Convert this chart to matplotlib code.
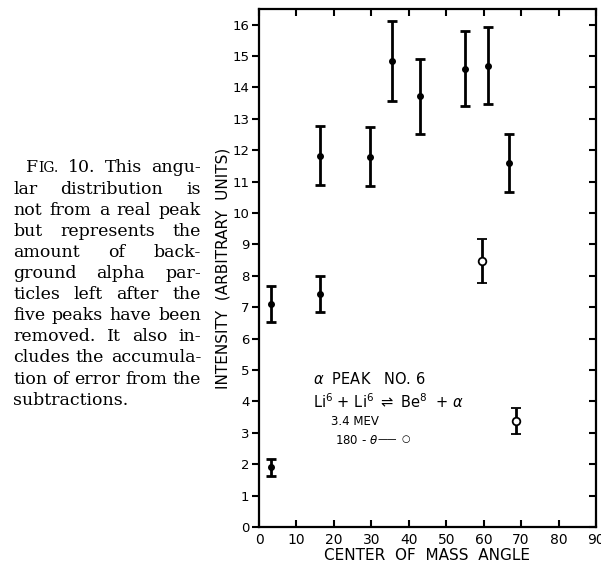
import matplotlib
matplotlib.use("Agg")
import matplotlib.pyplot as plt

# solid points: center-of-mass angle, intensity, error
ang_solid = [3.3, 3.3, 16.4, 16.4, 29.7, 35.5, 43.1, 55.1, 61.2, 66.8]
int_solid = [7.1, 1.9, 11.82, 7.42, 11.8, 14.85, 13.72, 14.6, 14.7, 11.6]
err_solid = [0.58, 0.28, 0.94, 0.58, 0.94, 1.27, 1.2, 1.2, 1.22, 0.93]
# open points (180 - theta)
ang_open = [59.6, 68.6]
int_open = [8.47, 3.38]
err_open = [0.7, 0.42]

xticks = list(range(0, 100, 10))
yticks = list(range(0, 17))

caption = [
    "FIG. 10. This angu-",
    "lar distribution is",
    "not from a real peak",
    "but represents the",
    "amount of back-",
    "ground alpha par-",
    "ticles left after the",
    "five peaks have been",
    "removed. It also in-",
    "cludes the accumula-",
    "tion of error from the",
    "subtractions.",
]

W, H = 601, 565
fig = plt.figure(figsize=(W / 100, H / 100), dpi=100)
ax = fig.add_axes([259 / W, 1 - 527 / H, (596 - 259) / W, (527 - 9) / H])

ax.errorbar(ang_solid, int_solid, yerr=err_solid, fmt="o", ms=4, color="black",
            ecolor="black", elinewidth=2, capsize=3.5, capthick=2)
ax.errorbar(ang_open, int_open, yerr=err_open, fmt="o", ms=5.5, mfc="white",
            mec="black", mew=1.3, color="black", ecolor="black",
            elinewidth=2, capsize=3.5, capthick=2)

ax.set_xlim(0, 90)
ax.set_ylim(0, 16.5)
ax.set_xticks(xticks)
ax.set_yticks(yticks)
ax.tick_params(axis="x", direction="in", top=True, length=5, width=1.5,
               labelsize=10, pad=4)
ax.tick_params(axis="y", direction="out", length=5, width=1.5,
               labelsize=9.5, pad=2)
ax.tick_params(axis="y", which="both", right=True)
for t in ax.yaxis.get_major_ticks():
    t.tick2line.set_marker(matplotlib.lines.TICKLEFT)
for s in ax.spines.values():
    s.set_linewidth(1.6)

ax.set_xlabel("CENTER  OF  MASS  ANGLE", fontsize=11, labelpad=1)
ax.set_ylabel("INTENSITY  (ARBITRARY  UNITS)", fontsize=11)
ax.yaxis.set_label_coords((230 - 259) / 337, 0.5)

ax.text(14.3, 4.71, r"$\alpha$  PEAK   NO. 6", fontsize=10.5, va="center")
ax.text(14.3, 3.98, r"Li$^6$ + Li$^6$ $\rightleftharpoons$ Be$^8$  + $\alpha$",
        fontsize=10.5, va="center")
ax.text(19.3, 3.35, "3.4 MEV", fontsize=8.5, va="center")
ax.text(20.2, 2.77, r"180 - $\theta$", fontsize=8.5, va="center")
ax.text(31.6, 2.79, "——", fontsize=7, va="center")
ax.text(39.3, 2.79, "○", fontsize=7, va="center", ha="center")

# justified caption on the left
left, right = 13, 201
fig.canvas.draw()
r = fig.canvas.get_renderer()
for i, line in enumerate(caption):
    yc = 1 - (168 + i * 21.1) / H
    words = line.split()
    arts = []
    for j, w in enumerate(words):
        if i == 0 and j == 0:
            arts.append(fig.text(0, yc, "F", family="DejaVu Serif", fontsize=12.5,
                                 va="center"))
            arts.append(fig.text(0, yc, "IG.", family="DejaVu Serif", fontsize=10,
                                 va="center"))
        else:
            arts.append(fig.text(0, yc, w, family="DejaVu Serif", fontsize=12.5,
                                 va="center"))
    widths = [a.get_window_extent(r).width for a in arts]
    x0 = 26 if i == 0 else left
    if i == len(caption) - 1:
        gap = 5
    else:
        n_gaps = len(words) - 1
        gap = (right - x0 - sum(widths)) / n_gaps
    x = x0
    for k, a in enumerate(arts):
        a.set_x(x / W)
        x += widths[k]
        if not (i == 0 and k == 0):
            x += gap

fig.savefig("out.png", dpi=100)
